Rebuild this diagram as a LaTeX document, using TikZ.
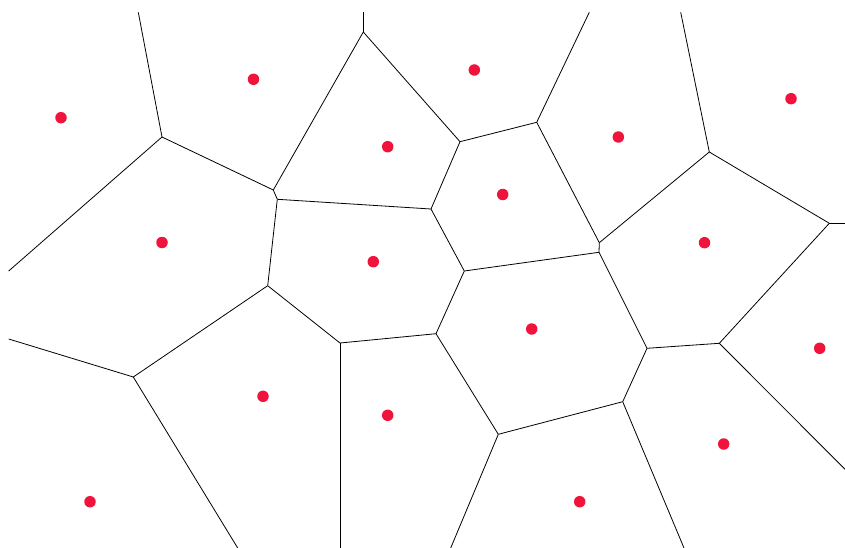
\documentclass[tikz,border=0pt]{standalone}
\definecolor{dotred}{RGB}{240,20,60}
\tikzset{
  edge/.style={black, line width=0.8pt},
  site/.style={circle, fill=dotred, draw=none, minimum size=11.5pt, inner sep=0pt}
}
\begin{document}
\begin{tikzpicture}[x=1pt,y=-1pt]
\useasboundingbox (0,0) rectangle (845,548);
% Voronoi vertices
\coordinate (A) at (162,137);
\coordinate (B1) at (273.3,190);
\coordinate (B2) at (277.3,199.3);
\coordinate (C) at (363.3,32);
\coordinate (D) at (460,141.7);
\coordinate (E) at (536.7,122.3);
\coordinate (F) at (431,209);
\coordinate (G) at (464.3,271);
\coordinate (H) at (267.7,285.7);
\coordinate (I) at (133.3,377);
\coordinate (J) at (340,343);
\coordinate (K) at (436,333.7);
\coordinate (L) at (498.3,434.3);
\coordinate (M) at (622.7,401.7);
\coordinate (N) at (647,348.3);
\coordinate (O) at (719.3,343.3);
\coordinate (Q1) at (599.3,242.7);
\coordinate (Q2) at (599,252.3);
\coordinate (R) at (709.3,152);
\coordinate (S) at (829.3,223.3);
% free ends
\coordinate (tA) at (138.3,12.3);
\coordinate (tC) at (363.3,12.3);
\coordinate (tE) at (589.3,12.3);
\coordinate (tR) at (680.7,12.3);
\coordinate (lA) at (8.7,271);
\coordinate (lI) at (8.7,339);
\coordinate (bI) at (237.7,548);
\coordinate (bJ) at (340,548);
\coordinate (bL) at (450.7,548);
\coordinate (bM) at (684,548);
\coordinate (rO) at (845,469.3);
\coordinate (rS) at (845,223.3);
% edges
\draw[edge] (tA) -- (A);
\draw[edge] (lA) -- (A);
\draw[edge] (A) -- (B1);
\draw[edge] (B1) -- (B2);
\draw[edge] (B1) -- (C);
\draw[edge] (C) -- (tC);
\draw[edge] (C) -- (D);
\draw[edge] (D) -- (E);
\draw[edge] (E) -- (tE);
\draw[edge] (D) -- (F);
\draw[edge] (B2) -- (F);
\draw[edge] (F) -- (G);
\draw[edge] (B2) -- (H);
\draw[edge] (H) -- (I);
\draw[edge] (I) -- (lI);
\draw[edge] (I) -- (bI);
\draw[edge] (H) -- (J);
\draw[edge] (J) -- (bJ);
\draw[edge] (J) -- (K);
\draw[edge] (K) -- (G);
\draw[edge] (K) -- (L);
\draw[edge] (L) -- (bL);
\draw[edge] (L) -- (M);
\draw[edge] (M) -- (bM);
\draw[edge] (M) -- (N);
\draw[edge] (N) -- (O);
\draw[edge] (O) -- (rO);
\draw[edge] (O) -- (S);
\draw[edge] (S) -- (rS);
\draw[edge] (R) -- (S);
\draw[edge] (R) -- (tR);
\draw[edge] (Q1) -- (R);
\draw[edge] (Q1) -- (E);
\draw[edge] (Q1) -- (Q2);
\draw[edge] (G) -- (Q2);
\draw[edge] (Q2) -- (N);
% sites
\node[site] (s1) at (61,117.7) {};
\node[site] (s2) at (253.5,79.3) {};
\node[site] (s3) at (474.3,70) {};
\node[site] (s4) at (387.7,146.7) {};
\node[site] (s5) at (618.3,137) {};
\node[site] (s6) at (791,98.7) {};
\node[site] (s7) at (162,242.5) {};
\node[site] (s8) at (502.7,194.5) {};
\node[site] (s9) at (373.3,261.7) {};
\node[site] (s10) at (704.5,242.7) {};
\node[site] (s11) at (531.7,329) {};
\node[site] (s12) at (819.7,348.3) {};
\node[site] (s13) at (263,396.3) {};
\node[site] (s14) at (387.7,415.3) {};
\node[site] (s15) at (723.7,444) {};
\node[site] (s16) at (90,501.7) {};
\node[site] (s17) at (579.7,501.7) {};
\end{tikzpicture}
\end{document}
